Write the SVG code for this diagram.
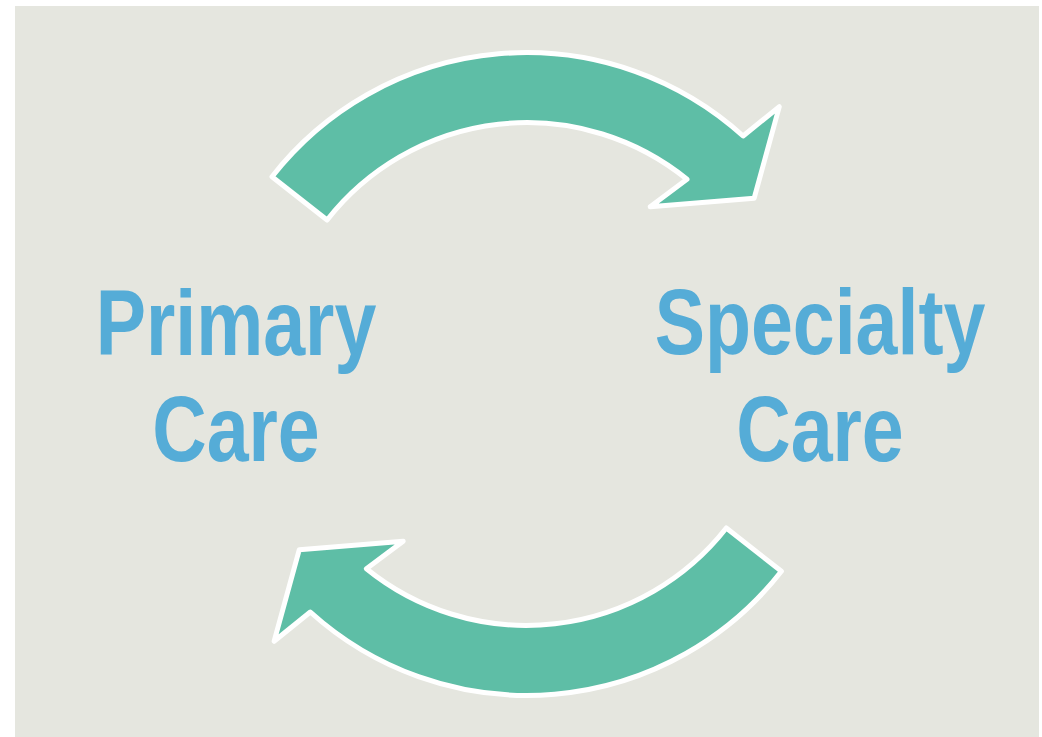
<svg xmlns="http://www.w3.org/2000/svg" width="1042" height="737" viewBox="0 0 1042 737">
<style>
.arrow{fill:#5EBEA6;stroke:#FFFFFF;stroke-width:5;stroke-linejoin:round}
.lbl{font-family:"Liberation Sans",Arial,sans-serif;font-weight:bold;font-size:93px;fill:#55ACD7;text-anchor:middle}
</style>
<defs>
<path id="arc" d="M 272,176.7 A 323 323 0 0 1 743.1,136 L 779.3,106.7 L 754.1,198.3 L 650.2,206.7 L 687,179.3 A 254 254 0 0 0 327.1,220 Z"/>
</defs>
<rect x="0" y="0" width="1042" height="737" fill="#FFFFFF"/>
<rect x="15" y="6" width="1024" height="731" fill="#E5E6DF"/>
<g id="connectors">
<use href="#arc" class="arrow"/>
<use href="#arc" class="arrow" transform="rotate(180 526.7 374)"/>
</g>
<g id="primary-care">
<g transform="translate(236,0) scale(0.81,1)">
<text class="lbl" x="0" y="355">Primary</text>
<text class="lbl" x="0" y="461">Care</text>
</g>
</g>
<g id="specialty-care">
<g transform="translate(820,0) scale(0.81,1)">
<text class="lbl" x="0" y="354">Specialty</text>
<text class="lbl" x="0" y="461">Care</text>
</g>
</g>
</svg>
